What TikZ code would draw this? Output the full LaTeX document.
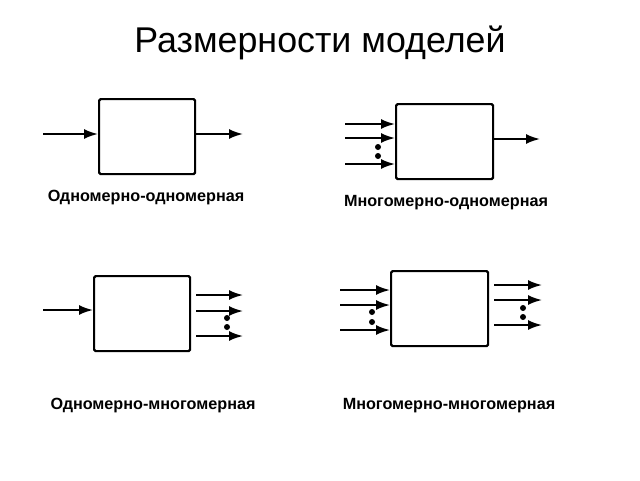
\documentclass[tikz,border=0pt]{standalone}
\usepackage{fontspec}
\setmainfont{Liberation Sans}
\usetikzlibrary{arrows.meta,calc}
\begin{document}
\begin{tikzpicture}[x=1pt,y=-1pt,
  blk/.style={draw,line width=2.2pt,rounded corners=1.5pt,inner sep=0pt,anchor=north west},
  arr/.style={line width=1.9pt,-{Latex[length=14pt,width=10pt]}},
  dotm/.style={circle,fill,inner sep=0pt,minimum size=6pt},
  lbl/.style={font=\bfseries\fontsize{16.2}{19}\selectfont},
  ttl/.style={font=\fontsize{35.8}{40}\selectfont}]
\useasboundingbox (0,0) rectangle (640,480);
\node[ttl] (title) at (320,43) {Размерности моделей};
% box 1
\node[blk,minimum width=96pt,minimum height=75pt] (b1) at (98,98) {};
\coordinate (i1) at (43,134);
\coordinate (o1) at (243,134);
\draw[arr] (i1) -- (i1 -| b1.west);
\draw[arr] (o1 -| b1.east) -- (o1);
\node[lbl] (l1) at (146,198) {Одномерно-одномерная};
% box 2
\node[blk,minimum width=97pt,minimum height=75pt] (b2) at (395,103) {};
\coordinate (i2a) at (345,124);
\coordinate (i2b) at (345,138);
\coordinate (i2c) at (345,164);
\coordinate (o2) at (540,139);
\draw[arr] (i2a) -- (i2a -| b2.west);
\draw[arr] (i2b) -- (i2b -| b2.west);
\draw[arr] (i2c) -- (i2c -| b2.west);
\draw[arr] (o2 -| b2.east) -- (o2);
\node[dotm] (d2a) at (378,147) {};
\node[dotm] (d2b) at (378,156) {};
\node[lbl] (l2) at (446,203) {Многомерно-одномерная};
% box 3
\node[blk,minimum width=96pt,minimum height=75pt] (b3) at (93,275) {};
\coordinate (i3) at (43,310);
\coordinate (o3a) at (243,295);
\coordinate (o3b) at (243,311);
\coordinate (o3c) at (243,336);
\draw[arr] (i3) -- (i3 -| b3.west);
\draw[arr] ($(o3a -| b3.east)+(5,0)$) -- (o3a);
\draw[arr] ($(o3b -| b3.east)+(5,0)$) -- (o3b);
\draw[arr] ($(o3c -| b3.east)+(5,0)$) -- (o3c);
\node[dotm] (d3a) at (227,318) {};
\node[dotm] (d3b) at (227,327) {};
\node[lbl] (l3) at (153,406) {Одномерно-многомерная};
% box 4
\node[blk,minimum width=97pt,minimum height=75pt] (b4) at (390,270) {};
\coordinate (i4a) at (340,290);
\coordinate (i4b) at (340,305);
\coordinate (i4c) at (340,330);
\coordinate (o4a) at (542,285);
\coordinate (o4b) at (542,300);
\coordinate (o4c) at (542,325);
\draw[arr] (i4a) -- (i4a -| b4.west);
\draw[arr] (i4b) -- (i4b -| b4.west);
\draw[arr] (i4c) -- (i4c -| b4.west);
\draw[arr] ($(o4a -| b4.east)+(5,0)$) -- (o4a);
\draw[arr] ($(o4b -| b4.east)+(5,0)$) -- (o4b);
\draw[arr] ($(o4c -| b4.east)+(5,0)$) -- (o4c);
\node[dotm] (d4a) at (372,312) {};
\node[dotm] (d4b) at (372,322) {};
\node[dotm] (d4c) at (523,308) {};
\node[dotm] (d4d) at (523,317) {};
\node[lbl] (l4) at (449,406) {Многомерно-многомерная};
\end{tikzpicture}
\end{document}
